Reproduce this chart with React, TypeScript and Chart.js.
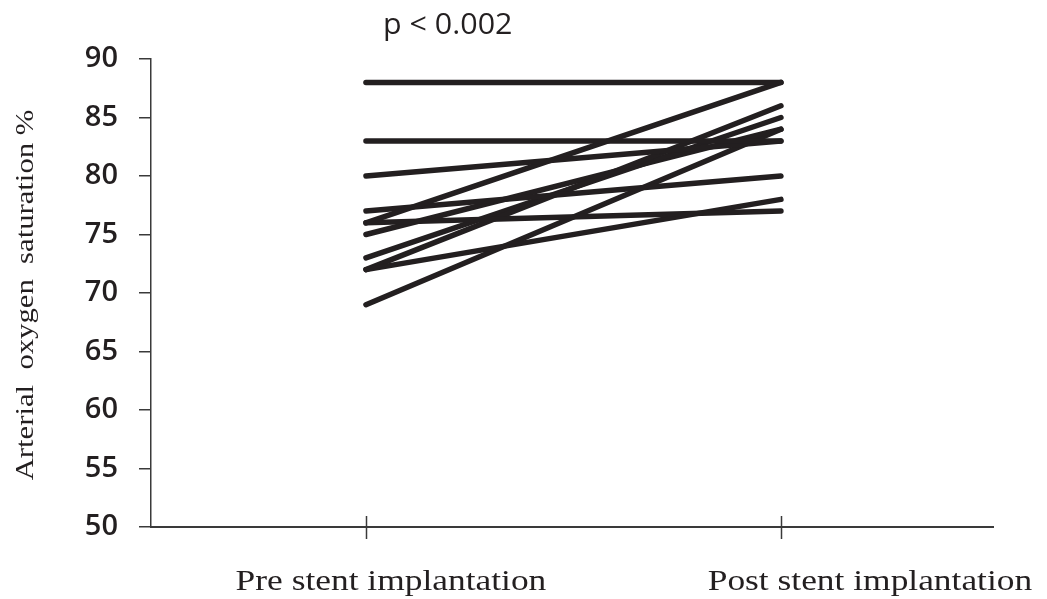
import React, { useEffect, useRef } from 'react';
import { Chart, registerables } from 'chart.js';

Chart.register(...registerables);

const categories = ['Pre stent implantation', 'Post stent implantation'];
const preValues = [88, 83, 80, 76, 76, 77, 72, 72, 73, 75, 69];
const postValues = [88, 83, 83, 88, 77, 80, 78, 86, 85, 84, 84];
const yTickValues = [50, 55, 60, 65, 70, 75, 80, 85, 90];
const yAxisTitle = 'Arterial  oxygen  saturation %';
const annotationText = 'p < 0.002';

const INK = '#231f20';
const AXIS = '#3a3a3a';

const drawStretched = (ctx: any, text: string, x: number, y: number, sx: number, rot = 0) => {
  ctx.save();
  ctx.translate(x, y);
  if (rot) ctx.rotate(rot);
  ctx.scale(sx, 1);
  ctx.fillText(text, 0, 0);
  ctx.restore();
};

const overlayPlugin = {
  id: 'overlay',
  afterDraw(chart: any) {
    const { ctx, chartArea, scales } = chart;
    const xs = scales.x;
    ctx.save();
    // crossing tick marks on the x axis
    ctx.strokeStyle = AXIS;
    ctx.lineWidth = 1.5;
    categories.forEach((_, i) => {
      const px = Math.round(xs.getPixelForValue(i)) + 0.5;
      ctx.beginPath();
      ctx.moveTo(px, chartArea.bottom - 11);
      ctx.lineTo(px, chartArea.bottom + 12);
      ctx.stroke();
    });
    // category labels
    ctx.fillStyle = INK;
    ctx.font = '30px "Liberation Serif", serif';
    ctx.textAlign = 'center';
    ctx.textBaseline = 'alphabetic';
    const shifts = [25, 89];
    categories.forEach((label, i) => {
      drawStretched(ctx, label, xs.getPixelForValue(i) + shifts[i], chartArea.bottom + 63, 1.18);
    });
    // y-axis title
    ctx.font = '26px "Liberation Serif", serif';
    drawStretched(ctx, yAxisTitle, 33, (chartArea.top + chartArea.bottom) / 2 + 2, 1.18, -Math.PI / 2);
    // p-value annotation
    ctx.font = '500 29px "Open Sans", sans-serif';
    ctx.textAlign = 'left';
    drawStretched(ctx, annotationText, xs.getPixelForValue(0) + 17, 34, 1.05);
    ctx.restore();
  },
};

export default function App() {
  const canvasRef = useRef<HTMLCanvasElement | null>(null);

  useEffect(() => {
    const canvas = canvasRef.current;
    if (!canvas) return;
    const datasets = preValues.map((pre, i) => ({
      label: `Patient ${i + 1}`,
      data: [
        { x: 0, y: pre },
        { x: 1, y: postValues[i] },
      ],
      borderColor: INK,
      backgroundColor: INK,
      borderWidth: 5.5,
      borderCapStyle: 'round' as const,
      pointRadius: 0,
      pointHoverRadius: 0,
      showLine: true,
      fill: false,
    }));

    const chart = new Chart(canvas, {
      type: 'scatter',
      data: { datasets },
      plugins: [overlayPlugin],
      options: {
        animation: false,
        responsive: false,
        events: [],
        layout: { padding: { top: 59, right: 54, left: 0, bottom: 0 } },
        plugins: {
          legend: { display: false },
          tooltip: { enabled: false },
          title: { display: false },
        },
        scales: {
          x: {
            type: 'linear',
            min: -0.518,
            max: 1.511,
            afterBuildTicks: (scale: any) => {
              scale.ticks = categories.map((_, i) => ({ value: i }));
            },
            afterFit: (scale: any) => {
              scale.height = 72;
            },
            ticks: { display: false },
            grid: { drawOnChartArea: false, drawTicks: false },
            border: { display: true, color: AXIS, width: 2 },
          },
          y: {
            type: 'linear',
            min: 50,
            max: 90,
            afterBuildTicks: (scale: any) => {
              scale.ticks = yTickValues.map((v) => ({ value: v }));
            },
            afterFit: (scale: any) => {
              scale.width = 151;
            },
            ticks: {
              color: INK,
              padding: 21,
              font: { family: '"Open Sans", sans-serif', size: 29, weight: 600 },
            },
            grid: {
              drawOnChartArea: false,
              drawTicks: true,
              tickLength: 12,
              color: AXIS,
              lineWidth: 1.5,
            },
            border: { display: true, color: AXIS, width: 1.5 },
            title: { display: false },
          },
        },
      },
    });
    return () => chart.destroy();
  }, []);

  return (
    <div style={{ position: 'fixed', left: 0, top: 0, width: 1047, height: 599, background: '#fff' }}>
      <canvas ref={canvasRef} width={1047} height={599} style={{ display: 'block' }} />
    </div>
  );
}
